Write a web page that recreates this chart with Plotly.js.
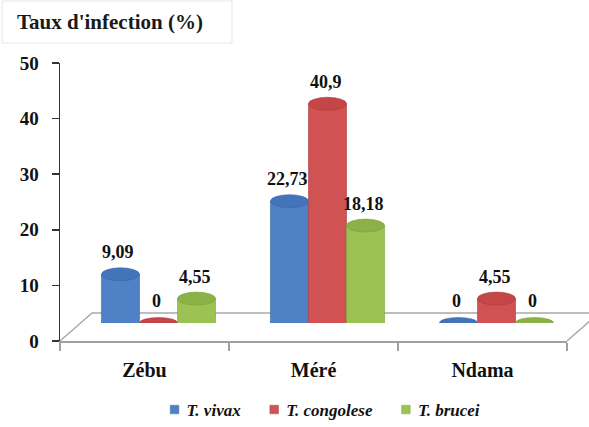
<!DOCTYPE html>
<html>
<head>
<meta charset="utf-8">
<script src="https://cdn.plot.ly/plotly-3.0.1.min.js"></script>
<style>html,body{margin:0;padding:0;background:#fff;}#chart{width:589px;height:427px;}</style>
</head>
<body>
<div id="chart"></div>
<script>
// ---- data ----
const categories = ['Zébu', 'Méré', 'Ndama'];
const seriesNames = ['T. vivax', 'T. congolese', 'T. brucei'];
const tVivax = [9.09, 22.73, 0];
const tCongolese = [0, 40.9, 4.55];
const tBrucei = [4.55, 18.18, 0];
const yTickVals = [0, 10, 20, 30, 40, 50];
const yTitle = "Taux d'infection (%)";

// ---- styles ----
const seriesValues = [tVivax, tCongolese, tBrucei];
const bodyColors = ['#4f81c6', '#d05252', '#9cc254'];
const edgeColors = ['#3b67a6', '#aa3c3c', '#7c9f3e'];
const topColors = ['#4374ba', '#c44646', '#8bb247'];
const FONT = 'Liberation Serif';
const bargap = 0.325;
const bw = (1 - bargap) / 3;

const W = 589, H = 427;
const M = {l: 60, r: 22, t: 63, b: 86, autoexpand: false};
const plotW = W - M.l - M.r, plotH = H - M.t - M.b;
const depthShiftX = 14, depthShiftY = 18;  // px shift of the 3-D bar plane
const barScale = 5.36;                      // px per unit for the bar plane

const traces = [{
  type: 'scatter', x: categories, y: categories.map(() => null),
  mode: 'none', showlegend: false, hoverinfo: 'skip'
}];
const shapes = [];
const annotations = [];

// floor of the 3-D plot
shapes.push({
  type: 'path', xref: 'paper', yref: 'paper', layer: 'below',
  path: 'M 0,0 L ' + (32/plotW) + ',' + (28/plotH) + ' L ' + (1 + 32/plotW) + ',' + (28/plotH) + ' L 1,0',
  line: {color: '#a9a9a9', width: 1.5}, fillcolor: 'rgba(0,0,0,0)'
});
// title box
shapes.push({
  type: 'rect', xref: 'paper', yref: 'paper', layer: 'below',
  x0: (2 - M.l)/plotW, x1: (232 - M.l)/plotW,
  y0: (H - M.b - 43)/plotH, y1: (H - M.b - 1)/plotH,
  line: {color: '#e6e6e6', width: 1}, fillcolor: '#ffffff'
});

seriesValues.forEach((vals, j) => {
  traces.push({
    type: 'bar', name: seriesNames[j], x: categories, y: vals,
    xaxis: 'x2', yaxis: 'y2',
    marker: {color: bodyColors[j], line: {color: edgeColors[j], width: 0.6}},
    hoverinfo: 'skip'
  });
  vals.forEach((v, i) => {
    const cx = i + (j - 1) * bw;
    if (v > 0) {
      shapes.push({
        type: 'circle', xref: 'x2', yref: 'y2', layer: 'above',
        x0: cx - bw/2, x1: cx + bw/2,
        ysizemode: 'pixel', yanchor: 0, y0: -6.5, y1: 6.5,
        fillcolor: bodyColors[j], line: {width: 0}
      });
    }
    shapes.push({
      type: 'circle', xref: 'x2', yref: 'y2', layer: 'above',
      x0: cx - bw/2, x1: cx + bw/2,
      ysizemode: 'pixel', yanchor: v, y0: v > 0 ? -6.5 : -5.5, y1: v > 0 ? 6.5 : 5.5,
      fillcolor: topColors[j], line: {color: edgeColors[j], width: 0.6}
    });
    annotations.push({
      xref: 'x2', yref: 'y2', x: cx, y: v,
      text: String(v).replace('.', ','), showarrow: false,
      yshift: 22, xshift: -2, yanchor: 'middle',
      font: {family: FONT, size: 18, weight: 'bold', color: '#111'}
    });
  });
});

const layout = {
  width: W, height: H,
  margin: M,
  font: {family: FONT},
  paper_bgcolor: '#ffffff', plot_bgcolor: 'rgba(0,0,0,0)',
  hovermode: false,
  barmode: 'group', bargap: bargap, bargroupgap: 0,
  title: {
    text: yTitle, xref: 'container', yref: 'container',
    x: 17/W, xanchor: 'left', y: 1 - 22/H, yanchor: 'middle',
    font: {family: FONT, size: 21, weight: 'bold', color: '#1a1a1a'}
  },
  xaxis: {
    type: 'category', range: [-0.5, 2.5], tickson: 'boundaries',
    ticks: 'outside', ticklen: 8, tickwidth: 1.5, tickcolor: '#a0a0a0',
    showline: true, linecolor: '#a0a0a0', linewidth: 1.5,
    showgrid: false, zeroline: false, ticklabelstandoff: 10,
    tickfont: {family: FONT, size: 20, weight: 'bold', color: '#111'},
    fixedrange: true
  },
  yaxis: {
    range: [0, 50], tickvals: yTickVals,
    ticks: 'outside', ticklen: 7, tickwidth: 1.5, tickcolor: '#333',
    showline: true, linecolor: '#333', linewidth: 1.5,
    showgrid: false, zeroline: false, ticklabelstandoff: 9,
    tickfont: {family: FONT, size: 19, weight: 'bold', color: '#111'},
    fixedrange: true
  },
  xaxis2: {
    type: 'category', anchor: 'y2', domain: [depthShiftX/plotW, 1],
    range: [-0.5, 2.5 - depthShiftX/169], visible: false, fixedrange: true
  },
  yaxis2: {
    anchor: 'x2', domain: [depthShiftY/plotH, 1],
    range: [0, (plotH - depthShiftY)/barScale], visible: false, fixedrange: true
  },
  showlegend: true,
  legend: {
    orientation: 'h', x: 0.505, xanchor: 'center', y: (H - M.b - 410)/plotH, yanchor: 'middle',
    font: {family: FONT, size: 17, style: 'italic', weight: 'bold', color: '#111'},
    bgcolor: 'rgba(0,0,0,0)', traceorder: 'normal'
  },
  shapes: shapes,
  annotations: annotations
};

Plotly.newPlot('chart', traces, layout, {displayModeBar: false, staticPlot: true}).then(() => {
  // smaller legend swatches, closer to their labels (as in the reference)
  document.querySelectorAll('.legendpoints path').forEach(p => {
    const t = p.getAttribute('transform') || '';
    p.setAttribute('transform', 'translate(8,0) ' + t + ' scale(0.72)');
  });
});
</script>
</body>
</html>
